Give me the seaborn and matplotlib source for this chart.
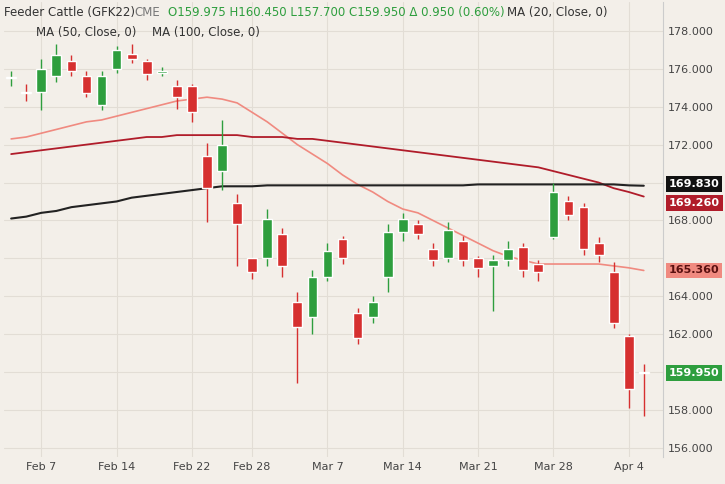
import matplotlib
matplotlib.use("Agg")
import matplotlib.pyplot as plt
import seaborn as sns
import numpy as np
import pandas as pd

dates = ["Feb 3","Feb 4","Feb 7","Feb 8","Feb 9","Feb 10","Feb 11","Feb 14","Feb 15","Feb 16","Feb 17","Feb 18",
         "Feb 22","Feb 23","Feb 24","Feb 25","Feb 28","Mar 1","Mar 2","Mar 3","Mar 4","Mar 7","Mar 8","Mar 9",
         "Mar 10","Mar 11","Mar 14","Mar 15","Mar 16","Mar 17","Mar 18","Mar 21","Mar 22","Mar 23","Mar 24","Mar 25",
         "Mar 28","Mar 29","Mar 30","Mar 31","Apr 1","Apr 4","Apr 5"]
opens  = [175.5,174.8,174.8,175.6,176.4,175.6,174.1,176.0,176.8,176.4,175.8,175.1,175.1,171.4,170.6,168.9,166.0,166.0,167.3,163.7,162.9,165.0,167.0,163.1,162.9,165.0,167.4,167.8,166.5,166.0,166.9,166.0,165.6,165.9,166.6,165.7,167.1,169.0,168.7,166.8,165.3,161.9,159.975]
closes = [175.5,174.7,176.0,176.7,175.9,174.7,175.6,177.0,176.5,175.7,175.9,174.5,173.7,169.7,172.0,167.8,165.3,168.1,165.6,162.4,165.0,166.4,166.0,161.8,163.7,167.4,168.1,167.3,165.9,167.5,165.9,165.5,165.9,166.5,165.4,165.3,169.5,168.3,166.5,166.2,162.6,159.1,159.95]
highs  = [175.9,175.2,176.5,177.3,176.7,175.9,175.9,177.2,177.3,176.5,176.1,175.4,175.2,172.1,173.3,169.4,165.8,168.6,167.6,164.2,165.4,166.8,167.2,163.4,164.0,167.8,168.4,168.0,166.8,167.9,167.2,166.1,166.2,166.9,166.8,165.9,170.0,169.3,168.9,167.1,165.8,162.0,160.45]
lows   = [175.1,174.3,173.8,175.3,175.6,174.5,173.8,175.8,176.3,175.4,175.6,173.9,173.2,167.9,169.6,165.6,164.9,165.6,165.0,159.4,162.0,164.8,165.7,161.5,162.6,164.2,166.9,167.0,165.6,165.8,165.6,165.0,163.2,165.6,165.0,164.8,167.0,168.0,166.2,165.8,162.3,158.1,157.7]
ma20  = [172.3,172.4,172.6,172.8,173.0,173.2,173.3,173.5,173.7,173.9,174.1,174.3,174.4,174.5,174.4,174.2,173.7,173.2,172.6,172.0,171.5,171.0,170.4,169.9,169.5,169.0,168.6,168.4,168.0,167.6,167.2,166.8,166.4,166.1,165.9,165.7,165.7,165.7,165.7,165.7,165.6,165.5,165.36]
ma50  = [171.5,171.6,171.7,171.8,171.9,172.0,172.1,172.2,172.3,172.4,172.4,172.5,172.5,172.5,172.5,172.5,172.4,172.4,172.4,172.3,172.3,172.2,172.1,172.0,171.9,171.8,171.7,171.6,171.5,171.4,171.3,171.2,171.1,171.0,170.9,170.8,170.6,170.4,170.2,170.0,169.7,169.5,169.26]
ma100 = [168.1,168.2,168.4,168.5,168.7,168.8,168.9,169.0,169.2,169.3,169.4,169.5,169.6,169.7,169.8,169.8,169.8,169.85,169.85,169.85,169.85,169.85,169.85,169.85,169.85,169.85,169.85,169.85,169.85,169.85,169.85,169.9,169.9,169.9,169.9,169.9,169.9,169.9,169.9,169.9,169.9,169.85,169.83]
tick_dates = ["Feb 7","Feb 14","Feb 22","Feb 28","Mar 7","Mar 14","Mar 21","Mar 28","Apr 4"]
yticks = [156,158,160,162,164,166,168,170,172,174,176,178]

df = pd.DataFrame(dict(d=dates,o=opens,c=closes,h=highs,l=lows,ma20=ma20,ma50=ma50,ma100=ma100))
df["x"] = np.arange(len(df))
bg = "#f3efe9"
green, red = "#2e9e3e", "#d63030"

sns.set_style("white")
fig, ax = plt.subplots(figsize=(7.25,4.84), dpi=100)
fig.patch.set_facecolor(bg); ax.set_facecolor(bg)
fig.subplots_adjust(left=0.005, right=0.915, top=0.995, bottom=0.055)

sns.lineplot(data=df, x="x", y="ma20", color="#f08a80", lw=1.2, ax=ax)
sns.lineplot(data=df, x="x", y="ma50", color="#b01c2a", lw=1.3, ax=ax)
sns.lineplot(data=df, x="x", y="ma100", color="#222222", lw=1.5, ax=ax)
for _, r in df.iterrows():
    col = green if r.c >= r.o else red
    ax.vlines(r.x, r.l, r.h, color=col, lw=1, zorder=3)
    lo, hi = min(r.o, r.c), max(r.o, r.c)
    ax.bar(r.x, max(hi-lo, 0.08), bottom=lo, width=0.65, color=col, zorder=4)

ax.set_xlim(-0.5, len(df)+0.3)
ax.set_ylim(155.5, 179.5)
ax.yaxis.tick_right()
tags = [(ma100[-1]+0.1,ma100[-1],"#111111","white"),(ma50[-1]-0.35,ma50[-1],"#b01c2a","white"),
        (ma20[-1],ma20[-1],"#f08a80","#5a1010"),(closes[-1],closes[-1],green,"white")]
ax.set_yticks(yticks)
ax.set_yticklabels([("" if any(abs(v-t[0])<0.7 for t in tags) else f"{v:.3f}") for v in yticks], fontsize=8, color="#444")
xt = [dates.index(t) for t in tick_dates]
ax.set_xticks(xt); ax.set_xticklabels(tick_dates, fontsize=8, color="#444")
ax.set_xlabel(""); ax.set_ylabel("")
ax.grid(True, color="#e2ddd5", lw=0.8)
for s in ax.spines.values(): s.set_visible(False)
ax.spines["right"].set_visible(True); ax.spines["right"].set_color("#ccc")
ax.tick_params(length=0)

for yy, val, fc, tc in tags:
    ax.annotate(f"{val:.3f}", xy=(1.0, yy), xycoords=("axes fraction","data"), xytext=(4,0), textcoords="offset points",
                va="center", ha="left", fontsize=8, fontweight="bold", color=tc,
                bbox=dict(boxstyle="square,pad=0.25", fc=fc, ec="none"), annotation_clip=False)

fig.text(0.005, 0.975, "Feeder Cattle (GFK22)", fontsize=8.5, color="#333", va="center")
fig.text(0.185, 0.975, "CME", fontsize=8.5, color="#777", va="center")
fig.text(0.232, 0.975, "O159.975 H160.450 L157.700 C159.950 \u0394 0.950 (0.60%)", fontsize=8.5, color=green, va="center")
fig.text(0.70, 0.975, "MA (20, Close, 0)", fontsize=8.5, color="#333", va="center")
fig.text(0.05, 0.932, "MA (50, Close, 0)", fontsize=8.5, color="#333", va="center")
fig.text(0.21, 0.932, "MA (100, Close, 0)", fontsize=8.5, color="#333", va="center")
fig.savefig("out.png", dpi=100, facecolor=bg)
